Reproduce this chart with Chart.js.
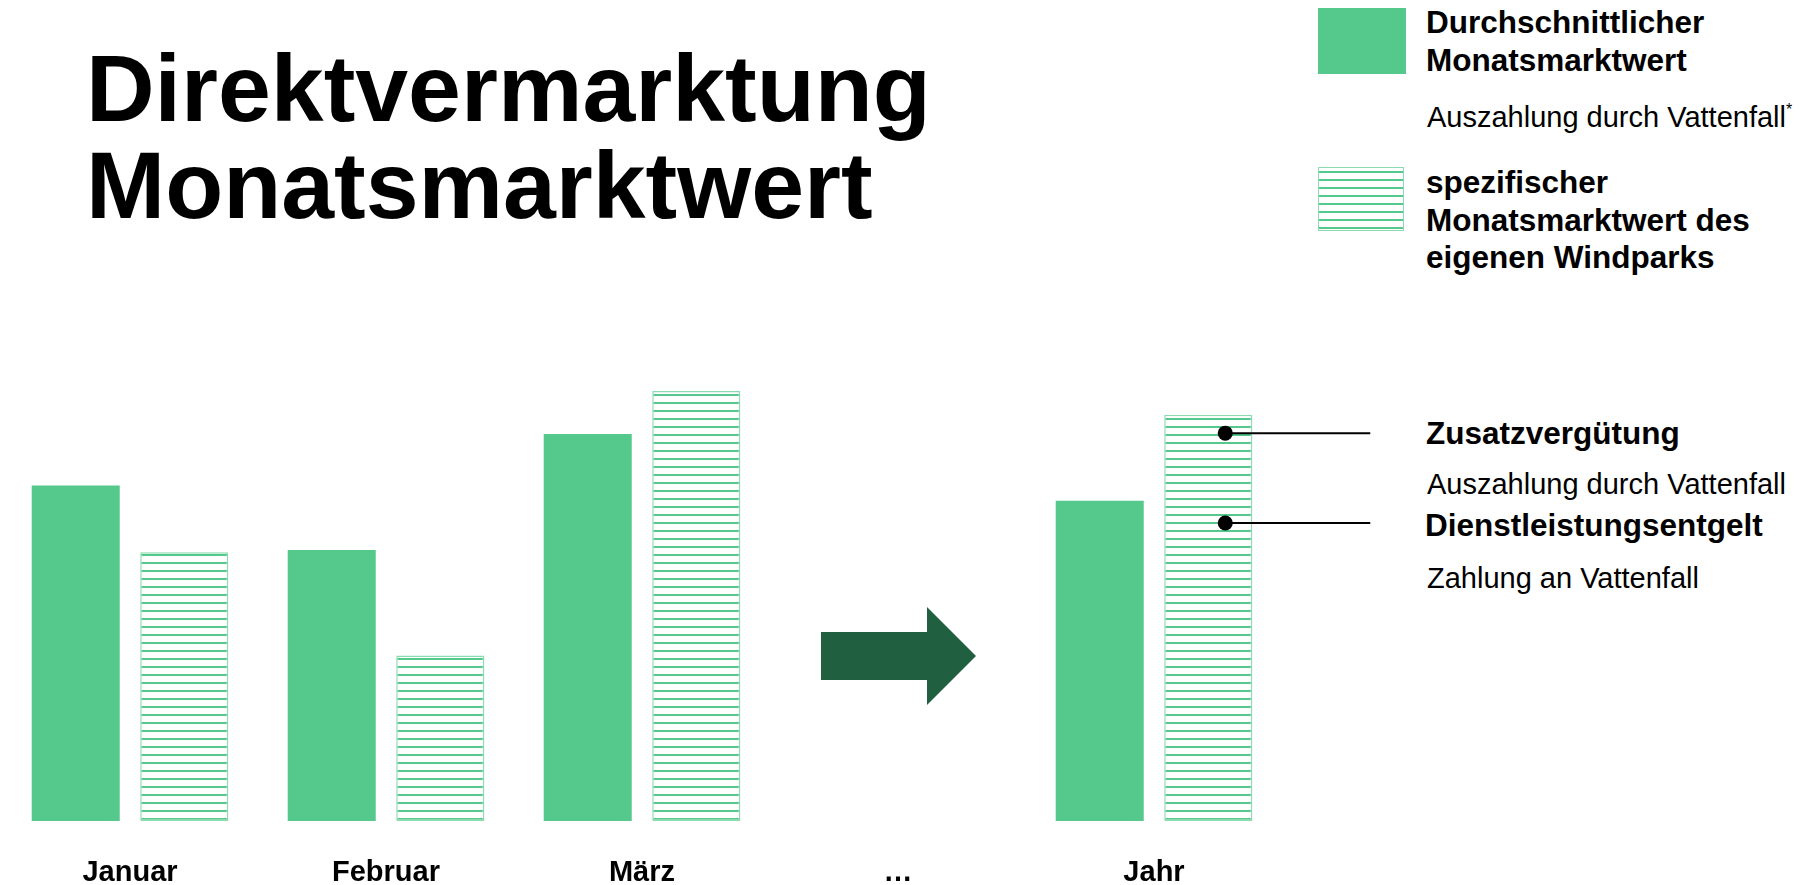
<!DOCTYPE html>
<html lang="de">
<head>
<meta charset="utf-8">
<title>Direktvermarktung Monatsmarktwert</title>
<script src="https://cdn.jsdelivr.net/npm/chart.js@4.4.1/dist/chart.umd.min.js"></script>
<style>
  html, body { margin: 0; padding: 0; background: #fff; overflow: hidden; }
  body { width: 1811px; height: 885px; position: relative; font-family: "Liberation Sans", Arial, sans-serif; color: #000; }
  #chart { position: absolute; left: 0; top: 0; }
  .txt { position: absolute; white-space: nowrap; }
  .title { left: 86px; top: 39.5px; font-size: 95px; line-height: 97px; font-weight: bold; }
  .b { font-size: 31.5px; line-height: 38px; font-weight: bold; }
  .r { font-size: 29px; line-height: 38px; }
  .swatch { position: absolute; left: 1318px; box-sizing: border-box; }
  .solid { top: 8px; width: 88px; height: 66px; background: #54c98b; }
  .hatch { top: 167px; width: 86px; height: 64px; border: 1.5px solid #8cdab0;
           background: repeating-linear-gradient(to bottom, #fff 0, #fff 3px, #54c98b 3px, #54c98b 5px, #fff 5px, #fff 8px); }
  sup { font-size: 16px; vertical-align: 12px; line-height: 0; }
</style>
</head>
<body>

<div class="txt title">Direktvermarktung<br>Monatsmarktwert</div>

<!-- legend -->
<div class="swatch solid"></div>
<div class="txt b" style="left:1426px; top:3px;">Durchschnittlicher<br>Monatsmarktwert</div>
<div class="txt r" style="left:1427px; top:98px;">Auszahlung durch Vattenfall<sup>*</sup></div>

<div class="swatch hatch"></div>
<div class="txt b" style="left:1426px; top:164px; line-height:37.5px;">spezifischer<br>Monatsmarktwert des<br>eigenen Windparks</div>

<!-- notes next to the year bar -->
<div class="txt b" style="left:1426px; top:414px;">Zusatzvergütung</div>
<div class="txt r" style="left:1427px; top:465px;">Auszahlung durch Vattenfall</div>
<div class="txt b" style="left:1425px; top:506px;">Dienstleistungsentgelt</div>
<div class="txt r" style="left:1427px; top:559px;">Zahlung an Vattenfall</div>

<canvas id="chart" width="1811" height="925"></canvas>

<script>
// data (relative units, tallest bar = 100)
const categories = ['Januar', 'Februar', 'März', '…', 'Jahr'];
const avgMarketValue = [78, 63, 90, null, 74.5];     // Durchschnittlicher Monatsmarktwert
const parkMarketValue = [62.5, 38.5, 100, null, 94.5]; // spezifischer Monatsmarktwert des Windparks
const markerLevels = [90.2, 69.3];                   // Zusatzvergütung, Dienstleistungsentgelt

const GREEN = '#54c98b';
const GREEN_EDGE = '#8cdab0';
const DARK = '#206040';
const arrowLevel = 38.4;

var ctx = document.getElementById('chart').getContext('2d');

// horizontal stripes for the wind park bars
function makeHatch() {
  var c = document.createElement('canvas');
  c.width = 8;
  c.height = 8;
  var g = c.getContext('2d');
  g.fillStyle = '#fff';
  g.fillRect(0, 0, 8, 8);
  g.fillStyle = GREEN;
  g.fillRect(0, 2, 8, 2);
  return ctx.createPattern(c, 'repeat');
}

// arrow in the "…" slot and the two markers on the year bar
const overlay = {
  id: 'overlay',
  afterDatasetsDraw(chart) {
    const c = chart.ctx;
    const x = chart.scales.x, y = chart.scales.y;
    const cx = x.getPixelForValue(3);
    const cy = y.getPixelForValue(arrowLevel);
    c.save();
    c.fillStyle = DARK;
    c.beginPath();
    c.moveTo(cx - 77, cy - 24);
    c.lineTo(cx + 29, cy - 24);
    c.lineTo(cx + 29, cy - 49);
    c.lineTo(cx + 78, cy);
    c.lineTo(cx + 29, cy + 49);
    c.lineTo(cx + 29, cy + 24);
    c.lineTo(cx - 77, cy + 24);
    c.closePath();
    c.fill();

    const bar = chart.getDatasetMeta(1).data[4];
    markerLevels.forEach(function (v) {
      const py = y.getPixelForValue(v);
      c.strokeStyle = '#000';
      c.lineWidth = 2;
      c.beginPath();
      c.moveTo(bar.x + 17, py);
      c.lineTo(bar.x + 162, py);
      c.stroke();
      c.fillStyle = '#000';
      c.beginPath();
      c.arc(bar.x + 17, py, 7.5, 0, Math.PI * 2);
      c.fill();
    });
    c.restore();
  }
};

var myChart = new Chart(ctx, {
  type: 'bar',
  data: {
    labels: categories,
    datasets: [{
      label: 'Durchschnittlicher Monatsmarktwert',
      data: avgMarketValue,
      backgroundColor: GREEN,
      borderWidth: 0
    }, {
      label: 'spezifischer Monatsmarktwert des eigenen Windparks',
      data: parkMarketValue,
      backgroundColor: makeHatch(),
      borderColor: GREEN_EDGE,
      borderWidth: 1.5,
      borderSkipped: false
    }]
  },
  options: {
    responsive: false,
    animation: false,
    categoryPercentage: 0.848,
    barPercentage: 0.811,
    layout: {
      padding: { left: 2, right: 529, top: 391, bottom: 0 }
    },
    scales: {
      x: {
        grid: { display: false, drawTicks: false },
        border: { display: false },
        ticks: {
          padding: 34.6,
          color: '#000',
          font: { family: '"Liberation Sans", Arial, sans-serif', size: 29, weight: 'bold', lineHeight: 1.2 }
        }
      },
      y: {
        display: false,
        min: 0,
        max: 100
      }
    },
    plugins: {
      legend: { display: false },
      tooltip: { enabled: false }
    }
  },
  plugins: [overlay]
});
</script>
</body>
</html>
